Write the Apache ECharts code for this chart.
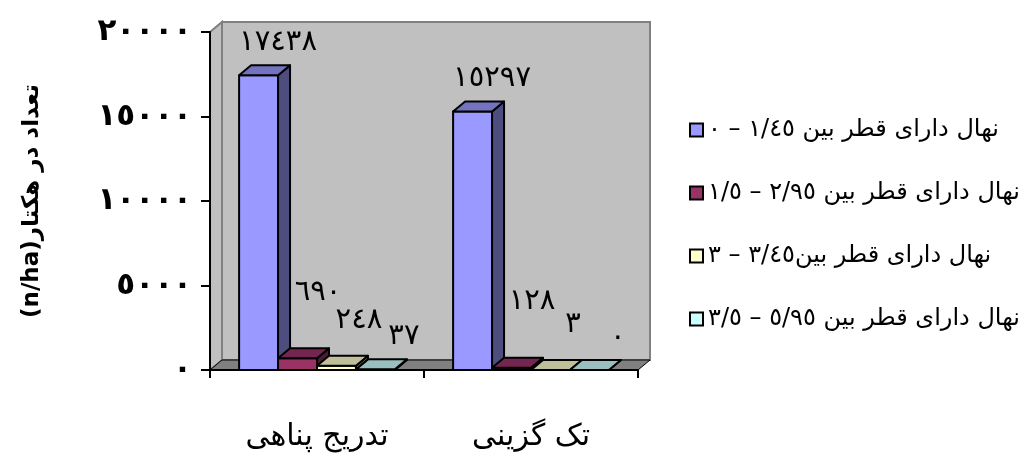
<!DOCTYPE html>
<html>
<head>
<meta charset="utf-8">
<script src="https://cdn.jsdelivr.net/npm/echarts/dist/echarts.min.js"></script>
<style>
  html, body { margin: 0; padding: 0; background: #fff; }
  #chart { width: 1029px; height: 456px; }
</style>
</head>
<body>
<div id="chart"></div>
<script>
// data
var categories = ['تدریج پناهی', 'تک گزینی']
var seriesNames = [
  'نهال دارای قطر بین ١/٤٥ – ٠',
  'نهال دارای قطر بین ٢/٩٥ – ١/٥',
  'نهال دارای قطر بین٣/٤٥ – ٣',
  'نهال دارای قطر بین ٥/٩٥ – ٣/٥'
]
var class1 = [17438, 15297]
var class2 = [690, 128]
var class3 = [248, 3]
var class4 = [37, 0]
var yTicks = [0, 5000, 10000, 15000, 20000]

var values = [class1, class2, class3, class4]

// excel style colours: front / top / side
var frontColors = ['#9999FF', '#993366', '#FFFFCC', '#CCFFFF']
var topColors = ['#7373BF', '#732650', '#BFBF99', '#99BFBF']
var sideColors = ['#4D4D80', '#4D1A33', '#808066', '#668080']
// label offsets per series (excel puts them oddly in 3d)
var labelDx = [0, 1, 3, 9]
var labelDy = [33, 66, 45, 33]

var depthX = 12
var depthY = 10

function toAr(n) {
  return String(n).replace(/[0-9]/g, function (d) {
    return String.fromCharCode(0x0660 + Number(d))
  })
}
function rtl(s) {
  return '\u202B' + s + '\u202C'
}

function makeBarRender(si) {
  return function (params, api) {
    var cat = api.value(0)
    var val = api.value(1)
    var base = api.coord([cat, 0])
    var top = api.coord([cat, val])
    var band = api.size([1, 0])[0]
    var w = band * 0.182
    var x0 = base[0] - 2 * w + si * w
    var ty = top[1]
    var by = base[1]
    var stroke = { stroke: '#000', lineWidth: 2, lineJoin: 'round' }
    return {
      type: 'group',
      children: [
        {
          type: 'rect',
          shape: { x: x0, y: ty, width: w, height: by - ty },
          style: Object.assign({ fill: frontColors[si] }, stroke)
        },
        {
          type: 'polygon',
          shape: { points: [[x0 + w, ty], [x0 + w + depthX, ty - depthY], [x0 + w + depthX, by - depthY], [x0 + w, by]] },
          style: Object.assign({ fill: sideColors[si] }, stroke)
        },
        {
          type: 'polygon',
          shape: { points: [[x0, ty], [x0 + depthX, ty - depthY], [x0 + w + depthX, ty - depthY], [x0 + w, ty]] },
          style: Object.assign({ fill: topColors[si] }, stroke)
        },
        {
          type: 'text',
          style: {
            x: x0 + w + labelDx[si],
            y: ty - labelDy[si],
            text: toAr(val),
            fill: '#000',
            font: '29px "DejaVu Sans"',
            align: 'center',
            verticalAlign: 'middle'
          }
        }
      ]
    }
  }
}

function renderWalls(params, api) {
  var c = params.coordSys
  var x = c.x, y = c.y, w = c.width, h = c.height
  return {
    type: 'group',
    children: [
      {
        type: 'rect',
        shape: { x: x + depthX, y: y - depthY, width: w, height: h },
        style: { fill: '#C0C0C0', stroke: '#808080', lineWidth: 2 }
      },
      {
        type: 'polygon',
        shape: { points: [[x, y], [x + depthX, y - depthY], [x + depthX, y + h - depthY], [x, y + h]] },
        style: { fill: '#C0C0C0', stroke: '#808080', lineWidth: 2 }
      },
      {
        type: 'polygon',
        shape: { points: [[x, y + h], [x + depthX, y + h - depthY], [x + w + depthX, y + h - depthY], [x + w, y + h]] },
        style: { fill: '#808080', stroke: '#000', lineWidth: 1 }
      }
    ]
  }
}

var chart = echarts.init(document.getElementById('chart'))

var series = [
  {
    type: 'custom',
    name: 'walls',
    silent: true,
    z: -1,
    renderItem: renderWalls,
    data: [[0, 0]]
  }
]
for (var i = 0; i < values.length; i++) {
  series.push({
    type: 'custom',
    name: seriesNames[i],
    itemStyle: { color: frontColors[i] },
    renderItem: makeBarRender(i),
    data: values[i].map(function (v, k) { return [k, v] })
  })
}

var option = {
  animation: false,
  backgroundColor: '#fff',
  grid: { left: 210, right: 391, top: 32, bottom: 86 },
  legend: {
    data: seriesNames,
    orient: 'vertical',
    left: 684,
    top: 113,
    icon: 'rect',
    itemWidth: 13,
    itemHeight: 13,
    itemGap: 39,
    itemStyle: { borderColor: '#000', borderWidth: 2 },
    formatter: function (name) { return rtl(name) },
    textStyle: { fontSize: 24, color: '#000', fontFamily: 'DejaVu Sans' }
  },
  xAxis: {
    type: 'category',
    data: categories,
    axisLine: { lineStyle: { color: '#000', width: 2 } },
    axisTick: { show: true, length: 8, lineStyle: { color: '#000', width: 2 } },
    axisLabel: {
      color: '#000',
      fontSize: 30,
      fontFamily: 'DejaVu Sans',
      margin: 52,
      formatter: function (v) { return rtl(v) }
    }
  },
  yAxis: {
    type: 'value',
    min: yTicks[0],
    max: yTicks[yTicks.length - 1],
    interval: 5000,
    splitLine: { show: false },
    axisLine: { show: true, lineStyle: { color: '#000', width: 2 } },
    axisTick: { show: true, length: 9, lineStyle: { color: '#000', width: 2 } },
    axisLabel: {
      color: '#000',
      fontSize: 31,
      fontWeight: 'bold',
      fontFamily: 'DejaVu Sans',
      margin: 18,
      formatter: function (v) { return toAr(v) }
    },
    name: rtl('تعداد در هکتار(n/ha)'),
    nameLocation: 'middle',
    nameRotate: 90,
    nameGap: 166,
    nameTextStyle: { color: '#000', fontSize: 23, fontWeight: 'bold', fontFamily: 'DejaVu Sans' }
  },
  series: series
}

chart.setOption(option)
</script>
</body>
</html>
